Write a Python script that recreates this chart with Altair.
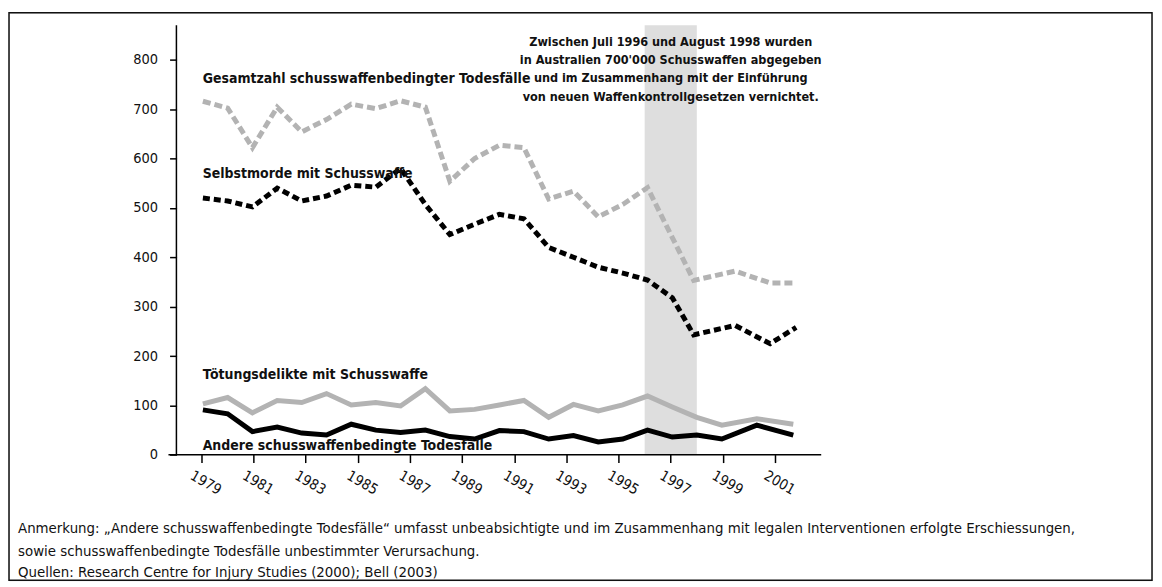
import altair as alt
import pandas as pd

# ---- data ----
# x positions of the plotted points, in year units of the tick axis
x_solid = [1979.06, 1980.01, 1980.96, 1981.91, 1982.85, 1983.80, 1984.75, 1985.69,
           1986.64, 1987.59, 1988.53, 1989.48, 1990.43, 1991.37, 1992.32, 1993.27,
           1994.22, 1995.16, 1996.11, 1997.06, 1998.00, 1998.96, 2000.30, 2001.70]
x_dashed = [1979.06, 1980.01, 1980.96, 1981.91, 1982.85, 1983.80, 1984.75, 1985.69,
            1986.64, 1987.59, 1988.53, 1989.48, 1990.43, 1991.37, 1992.32, 1993.27,
            1994.22, 1995.16, 1996.11, 1997.06, 1997.88, 1999.47, 2000.81, 2001.81]

gesamt = [716, 702, 622, 704, 654, 679, 710, 701, 717, 704, 554, 600,
          627, 622, 518, 534, 482, 507, 541, 440, 353, 372, 348, 348]
selbst = [520, 514, 502, 540, 514, 524, 546, 542, 580, 507, 446, 467,
          487, 478, 420, 400, 380, 368, 354, 318, 243, 262, 225, 258]
toetung = [103, 116, 85, 110, 106, 124, 101, 106, 99, 134, 89, 92,
           101, 110, 76, 102, 89, 101, 119, 97, 76, 60, 73, 62]
andere = [91, 83, 47, 56, 44, 40, 62, 50, 45, 50, 37, 32,
          49, 47, 32, 39, 26, 32, 50, 36, 40, 32, 60, 40]

series_names = [
    "Gesamtzahl schusswaffenbedingter Todesfälle",
    "Selbstmorde mit Schusswaffe",
    "Tötungsdelikte mit Schusswaffe",
    "Andere schusswaffenbedingte Todesfälle",
]
label_y = [760, 569, 161, 18]

tick_years = list(range(1979, 2002, 2))
tick_values = [0, 100, 200, 300, 400, 500, 600, 700, 800]

band_start, band_end = 1996, 1998

note_text = [
    "Zwischen Juli 1996 und August 1998 wurden",
    "in Australien 700'000 Schusswaffen abgegeben",
    "und im Zusammenhang mit der Einführung",
    "von neuen Waffenkontrollgesetzen vernichtet.",
]
foot_lines = [
    "Anmerkung: „Andere schusswaffenbedingte Todesfälle“ umfasst unbeabsichtigte und im Zusammenhang mit legalen Interventionen erfolgte Erschiessungen,",
    "sowie schusswaffenbedingte Todesfälle unbestimmter Verursachung.",
    "Quellen: Research Centre for Injury Studies (2000); Bell (2003)",
]
foot_y = [-151, -196, -240]

X_DOM = [1971.625, 2015.455]
Y_DOM = [-254, 895.2]
xs = alt.Scale(domain=X_DOM, nice=False, zero=False)
ys = alt.Scale(domain=Y_DOM, nice=False, zero=False)

COND = "DejaVu Sans Condensed, sans-serif"

x_axis = alt.Axis(values=tick_years, format="d", orient="bottom", offset=-126,
                  domain=False, grid=False, tickSize=8, tickWidth=1.5,
                  tickColor="black", labelAngle=30, labelAlign="left",
                  labelBaseline="top", labelOffset=-7, labelPadding=6,
                  labelFont=COND, labelFontSize=14.5, labelColor="#111",
                  title=None)
y_axis = alt.Axis(values=tick_values, orient="left", offset=-168,
                  domain=False, grid=False, tickSize=7, tickWidth=1.5,
                  tickColor="black", labelPadding=12, labelFont=COND,
                  labelFontSize=14.5, labelColor="#111", title=None)

band_df = pd.DataFrame({"a": [band_start], "b": [band_end], "lo": [0], "hi": [870]})
band = alt.Chart(band_df).mark_rect(color="#dedede").encode(
    x=alt.X("a:Q", scale=xs, axis=x_axis),
    x2="b:Q",
    y=alt.Y("lo:Q", scale=ys, axis=y_axis),
    y2="hi:Q",
)

# outer frame along the edges of the drawing area
frame_df = pd.DataFrame({"a": [X_DOM[0]], "b": [X_DOM[1]], "lo": [Y_DOM[0]], "hi": [Y_DOM[1]]})
frame = alt.Chart(frame_df).mark_rect(filled=False, stroke="#111", strokeWidth=1.5).encode(
    x=alt.X("a:Q", scale=xs), x2="b:Q",
    y=alt.Y("lo:Q", scale=ys), y2="hi:Q",
)

axes_df = pd.DataFrame({
    "x1": [1977.74, 1978.045], "x2": [2002.77, 1978.045],
    "y1": [0, 0], "y2": [0, 870],
})
axis_lines = alt.Chart(axes_df).mark_rule(color="black", strokeWidth=1.5).encode(
    x=alt.X("x1:Q", scale=xs), x2="x2:Q",
    y=alt.Y("y1:Q", scale=ys), y2="y2:Q",
)

def line(xv, vals, color, dash=None):
    kw = dict(color=color, strokeWidth=5, strokeJoin="miter", strokeCap="butt")
    if dash:
        kw["strokeDash"] = dash
    return alt.Chart(pd.DataFrame({"jahr": xv, "wert": vals})).mark_line(**kw).encode(
        x=alt.X("jahr:Q", scale=xs), y=alt.Y("wert:Q", scale=ys))

GREY = "#b3b3b3"
l_gesamt = line(x_dashed, gesamt, GREY, [8, 4])
l_selbst = line(x_dashed, selbst, "black", [7, 4])
l_toet = line(x_solid, toetung, GREY)
l_andere = line(x_solid, andere, "black")

lab_df = pd.DataFrame({"name": series_names, "y": label_y, "x": [1979.05] * 4})
labels = alt.Chart(lab_df).mark_text(
    align="left", baseline="middle", font=COND, fontWeight="bold",
    fontSize=14, color="#111").encode(
    x=alt.X("x:Q", scale=xs), y=alt.Y("y:Q", scale=ys), text="name:N")

note = alt.Chart(pd.DataFrame({"x": [1997.0], "y": [849]})).mark_text(
    text=note_text, align="center", baseline="top", lineHeight=18.5,
    font=COND, fontWeight="bold", fontSize=12.6, color="#111").encode(
    x=alt.X("x:Q", scale=xs), y=alt.Y("y:Q", scale=ys))

foot_df = pd.DataFrame({"t": foot_lines, "y": foot_y, "x": [1971.97] * 3})
foot = alt.Chart(foot_df).mark_text(
    align="left", baseline="middle", font="DejaVu Sans, sans-serif",
    fontSize=13.4, color="#111").encode(
    x=alt.X("x:Q", scale=xs), y=alt.Y("y:Q", scale=ys), text="t:N")

chart = alt.layer(frame, band, axis_lines, l_gesamt, l_selbst, l_toet, l_andere,
                  labels, note, foot).properties(
    width=1146, height=569,
    padding={"left": 1, "top": 4, "right": 2, "bottom": 2},
    autosize=alt.AutoSizeParams(type="none"),
).configure_view(strokeWidth=0).configure(background="white")

chart.save("out.html", embed_options={"renderer": "svg", "actions": False})
